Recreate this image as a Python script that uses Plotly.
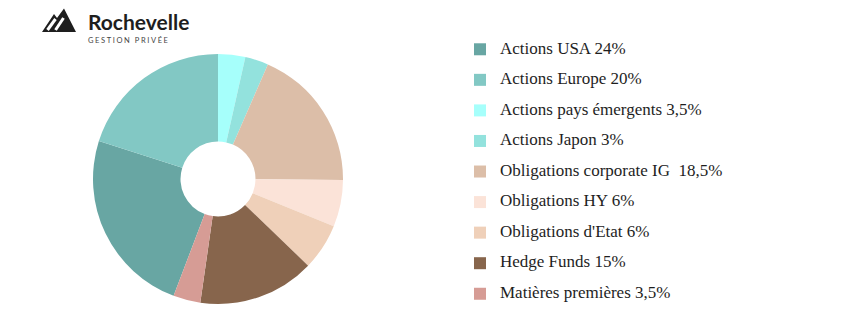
import plotly.graph_objects as go

W, H = 863, 331

# ---- data ----
categories = [
    "Actions USA 24%",
    "Actions Europe 20%",
    "Actions pays émergents 3,5%",
    "Actions Japon 3%",
    "Obligations corporate IG  18,5%",
    "Obligations HY 6%",
    "Obligations d'Etat 6%",
    "Hedge Funds 15%",
    "Matières premières 3,5%",
]
values = [24, 20, 3.5, 3, 18.5, 6, 6, 15, 3.5]
colors = ["#68a6a3", "#82c8c4", "#a6fffb", "#93e2dd", "#dcbea8",
          "#fbe3d8", "#efd0b9", "#87654c", "#d69c95"]

# rotate so that "Actions pays émergents" starts at 12 o'clock (clockwise)
lead = sum(values[:2]) / sum(values) * 360.0
rotation = 360.0 - lead

LEG_FS = 21.2     # controls row spacing
TXT_FS = 17       # visible text size
labels = [f'<span style="font-size:{TXT_FS}px;baseline-shift:4px">{c}</span>' for c in categories]

def px(x):
    return x / W

def py(y):
    return 1 - y / H

fig = go.Figure()
fig.add_trace(go.Pie(
    labels=labels,
    values=values,
    sort=False,
    direction="clockwise",
    rotation=rotation,
    hole=0.3,
    marker=dict(colors=colors, line=dict(width=0)),
    textinfo="none",
    hovertext=categories,
    hoverinfo="text",
    domain=dict(x=[px(93), px(343)], y=[py(304), py(54)]),
))

# ---- logo ----
shapes = []
mountain = [(42, 32), (54, 14), (57, 18), (64, 8.5), (76, 32)]
path = "M " + " L ".join(f"{px(x)},{py(y)}" for x, y in mountain) + " Z"
shapes.append(dict(type="path", path=path, xref="paper", yref="paper",
                   fillcolor="#1e1e1e", line=dict(width=0)))
for (x0, y0, x1, y1) in [(47.5, 30, 55.5, 19), (55.5, 30, 63.5, 18)]:
    shapes.append(dict(type="line", xref="paper", yref="paper",
                       x0=px(x0), y0=py(y0), x1=px(x1), y1=py(y1),
                       line=dict(color="white", width=3)))

annotations = [
    dict(text="<b>Rochevelle</b>", x=px(86), y=py(21), xref="paper", yref="paper",
         xanchor="left", yanchor="middle", showarrow=False,
         font=dict(family="Lato", size=21, color="#1e1e1e")),
    dict(text='<span style="letter-spacing:1.6px">GESTION PRIVÉE</span>',
         x=px(86), y=py(40.5), xref="paper", yref="paper",
         xanchor="left", yanchor="middle", showarrow=False,
         font=dict(family="Lato", size=7.5, color="#444444")),
]

fig.update_layout(
    width=W, height=H,
    margin=dict(l=0, r=0, t=0, b=0),
    paper_bgcolor="white", plot_bgcolor="white",
    showlegend=True,
    legend=dict(x=px(460), y=py(29), xanchor="left", yanchor="top",
                font=dict(family="Liberation Serif", size=LEG_FS, color="#1e1e1e"),
                bgcolor="rgba(0,0,0,0)", borderwidth=0),
    shapes=shapes,
    annotations=annotations,
)

fig.write_html("out.html")
